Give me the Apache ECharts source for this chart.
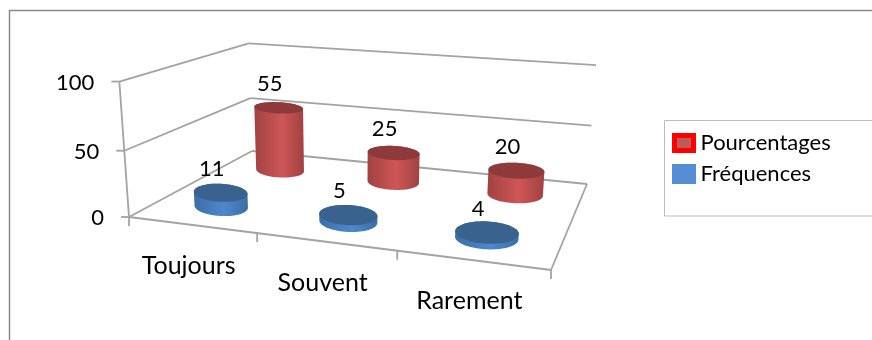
<!DOCTYPE html>
<html>
<head>
<meta charset="utf-8">
<style>html,body{margin:0;padding:0;background:#fff}#chart{width:872px;height:340px}</style>
<script src="https://cdn.jsdelivr.net/npm/echarts@6/dist/echarts.min.js"></script>
</head>
<body>
<div id="chart"></div>
<script>
// Chart data
const categories = ['Toujours', 'Souvent', 'Rarement'];
const frequences = [11, 5, 4];
const pourcentages = [55, 25, 20];
const valueTicks = [0, 50, 100];

// Position of each series along the depth of the box (0 = front, 1 = back)
const depthFrequences = 0.22;
const depthPourcentages = 0.75;
// Cylinder radius in box units, across and along the depth
const radiusAcross = 0.073;
const radiusDepth = 0.12;
const ellipseTilt = 0.05;

// Perspective box: floor corners and top corners as seen on the page
const floorFL = [129, 217], floorFR = [551, 270], floorBR = [587, 184], floorBL = [252, 151];
const topFL = [119, 82], topBL = [249, 45], topBR = [596, 63];

const FONT = 'Lato';
const LINE = '#A3A3A3';

// Unit square to floor quad homography
function floorMatrix() {
  const [x0, y0] = floorFL, [x1, y1] = floorFR, [x2, y2] = floorBR, [x3, y3] = floorBL;
  const sx = x0 - x1 + x2 - x3, sy = y0 - y1 + y2 - y3;
  const dx1 = x1 - x2, dx2 = x3 - x2, dy1 = y1 - y2, dy2 = y3 - y2;
  const den = dx1 * dy2 - dx2 * dy1;
  const g = (sx * dy2 - dx2 * sy) / den, h = (dx1 * sy - sx * dy1) / den;
  return [x1 - x0 + g * x1, x3 - x0 + h * x3, x0, y1 - y0 + g * y1, y3 - y0 + h * y3, y0, g, h, 1];
}
const M = floorMatrix();
const floorH = (u, d) => [M[0] * u + M[1] * d + M[2], M[3] * u + M[4] * d + M[5], M[6] * u + M[7] * d + M[8]];

// Least squares fit of the vertical column of the projection
function fitVertical() {
  const pts = [[0, 0, topFL], [0, 1, topBL], [1, 1, topBR]];
  let n = 0, sx = 0, sy = 0, s2 = 0, bx = 0, by = 0, bz = 0;
  pts.forEach(([u, d, [x, y]]) => {
    const [X, Y, W] = floorH(u, d);
    const rx = x * W - X, ry = y * W - Y;
    n += 1; sx += x; sy += y; s2 += x * x + y * y;
    bx += rx; by += ry; bz -= x * rx + y * ry;
  });
  const C = (bz + sx * bx / n + sy * by / n) / (s2 - (sx * sx + sy * sy) / n);
  return [(bx + sx * C) / n, (by + sy * C) / n, C];
}
const V = fitVertical();

// Box coordinates to pixels: u across, d in depth, h in height, all 0..1
function project(u, d, h) {
  const [X, Y, W] = floorH(u, d);
  const w = W + V[2] * h;
  return [(X + V[0] * h) / w, (Y + V[1] * h) / w];
}

// Outline of a cylinder end: an ellipse sized from the local scale of the box
function circle(u, d, h) {
  const c = project(u, d, h);
  const rx = Math.abs(project(u + radiusAcross, d, h)[0] - project(u - radiusAcross, d, h)[0]) / 2;
  const ry = Math.abs(project(u, d + radiusDepth, h)[1] - project(u, d - radiusDepth, h)[1]) / 2;
  const pts = [];
  for (let i = 0; i < 72; i++) {
    const t = i / 72 * Math.PI * 2;
    const ex = rx * Math.cos(t), ey = ry * Math.sin(t);
    pts.push([c[0] + ex - ellipseTilt * ey, c[1] + ey + ellipseTilt * ex]);
  }
  return pts;
}

function hull(points) {
  const p = points.slice().sort((a, b) => a[0] - b[0] || a[1] - b[1]);
  const cross = (o, a, b) => (a[0] - o[0]) * (b[1] - o[1]) - (a[1] - o[1]) * (b[0] - o[0]);
  const build = list => {
    const out = [];
    list.forEach(q => {
      while (out.length > 1 && cross(out[out.length - 2], out[out.length - 1], q) <= 0) out.pop();
      out.push(q);
    });
    out.pop();
    return out;
  };
  return build(p).concat(build(p.slice().reverse()));
}

const text = (str, x, y, align, size) => ({
  type: 'text',
  style: { text: str, x, y, fill: '#000', fontSize: size || 22, fontFamily: FONT, align: align || 'center', verticalAlign: 'middle' }
});
const seg = (a, b) => ({
  type: 'line',
  shape: { x1: a[0], y1: a[1], x2: b[0], y2: b[1] },
  style: { stroke: LINE, lineWidth: 1.8, fill: null }
});

// Walls, floor edges, ticks and axis labels
function renderBox() {
  const children = [];
  valueTicks.forEach(v => {
    const h = v / 100;
    const fl = project(0, 0, h), bl = project(0, 1, h), br = project(1, 1, h);
    children.push(seg(fl, bl), seg(bl, br));
    children.push(seg(fl, [fl[0] - 8, fl[1]]));
    children.push(text(String(v), fl[0] - 25, fl[1] + 1, 'right'));
  });
  const o = project(0, 0, 0), top = project(0, 0, 1), fr = project(1, 0, 0), br = project(1, 1, 0);
  children.push(seg(o, top), seg(o, fr), seg(fr, br));
  categories.forEach((c, i) => {
    const p = project(i / 3, 0, 0);
    children.push(seg(p, [p[0], p[1] + 9]));
    const m = project((i + 0.5) / 3, 0, 0);
    children.push(text(c, m[0] - 3, m[1] + 41, 'center', 25));
  });
  const end = project(1, 0, 0);
  children.push(seg(end, [end[0], end[1] + 9]));
  return { type: 'group', children };
}

// One cylinder per data item; position and height come from the hidden grid's scales
function cylinderRenderer(depth, palette) {
  return function (params, api) {
    const area = params.coordSys;
    const c = api.coord([api.value(0), api.value(1)]);
    const u = (c[0] - area.x) / area.width;
    const h = (area.y + area.height - c[1]) / area.height;
    const bottom = circle(u, depth, 0), top = circle(u, depth, h);
    const tc = project(u, depth, h);
    return {
      type: 'group',
      children: [
        {
          type: 'polygon',
          shape: { points: hull(bottom.concat(top)) },
          style: {
            fill: new echarts.graphic.LinearGradient(0, 0, 1, 0, [
              { offset: 0, color: palette.edge },
              { offset: 0.55, color: palette.side },
              { offset: 1, color: palette.edge }
            ])
          }
        },
        { type: 'polygon', shape: { points: top }, style: { fill: palette.top } },
        text(String(api.value(1)), tc[0] - 9, tc[1] - 24)
      ]
    };
  };
}

const chart = echarts.init(document.getElementById('chart'), null, { renderer: 'canvas' });
chart.setOption({
  animation: false,
  backgroundColor: '#fff',
  grid: { left: 100, top: 50, width: 300, height: 200, show: false },
  xAxis: { type: 'category', data: categories, show: false },
  yAxis: { type: 'value', min: 0, max: 100, interval: 50, show: false },
  legend: {
    orient: 'vertical',
    left: 672,
    top: 132,
    padding: 0,
    itemWidth: 19,
    itemHeight: 15,
    itemGap: 9,
    textStyle: { fontFamily: FONT, fontSize: 22, color: '#000', padding: [0, 0, 0, 2] },
    data: [
      { name: 'Pourcentages', icon: 'rect', itemStyle: { color: '#BE5A5A', borderColor: '#FF0000', borderWidth: 5 } },
      { name: 'Fréquences', icon: 'rect', itemStyle: { color: '#558ED5', borderColor: '#558ED5', borderWidth: 5 } }
    ]
  },
  graphic: [
    { type: 'polyline', silent: true, shape: { points: [[9.5, 340], [9.5, 10.5], [872, 10.5]] }, style: { stroke: '#8A8A8A', lineWidth: 1.5, fill: null } },
    { type: 'polyline', silent: true, shape: { points: [[872, 120.5], [664.5, 120.5], [664.5, 216], [872, 216]] }, style: { stroke: '#BDBDBD', lineWidth: 1, fill: null } }
  ],
  series: [
    { type: 'custom', name: 'box', silent: true, coordinateSystem: 'cartesian2d', data: [[0, 0]], renderItem: renderBox, z: 1 },
    {
      type: 'custom', name: 'Pourcentages', coordinateSystem: 'cartesian2d', z: 2,
      itemStyle: { color: '#C0504D' },
      data: pourcentages.map((v, i) => [i, v]),
      renderItem: cylinderRenderer(depthPourcentages, { edge: '#A04241', side: '#CF5656', top: '#8E3A3A' })
    },
    {
      type: 'custom', name: 'Fréquences', coordinateSystem: 'cartesian2d', z: 3,
      itemStyle: { color: '#4F81BD' },
      data: frequences.map((v, i) => [i, v]),
      renderItem: cylinderRenderer(depthFrequences, { edge: '#3A6EA5', side: '#4F88CC', top: '#3A628F' })
    }
  ]
});
</script>
</body>
</html>
